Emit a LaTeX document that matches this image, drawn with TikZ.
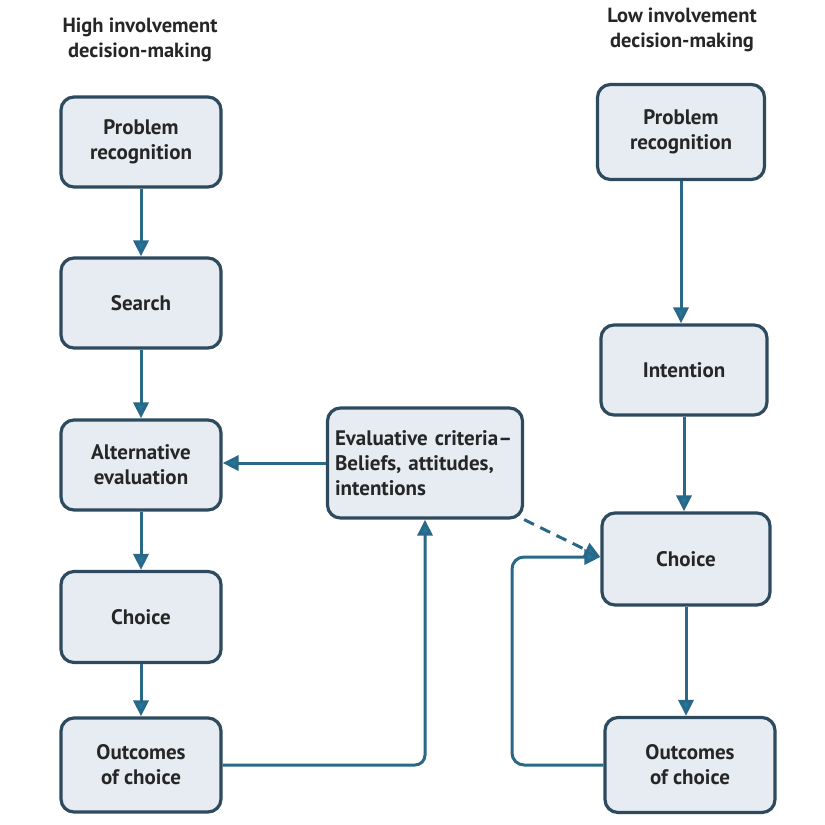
\documentclass[tikz,border=0pt]{standalone}
\usepackage{fontspec}
\setmainfont{PT Sans}
\usetikzlibrary{arrows.meta,calc}
\definecolor{boxline}{HTML}{2E4A5E}
\definecolor{boxfill}{HTML}{E6ECF2}
\definecolor{arrowc}{HTML}{2A6888}
\definecolor{tipc}{HTML}{1F78A2}
\tikzset{
  stage/.style={draw=boxline, fill=boxfill, line width=3.2pt, rounded corners=13pt,
    align=center, font=\bfseries\fontsize{21}{25}\selectfont, text=black!85, inner sep=0pt},
  ttl/.style={align=center, font=\bfseries\fontsize{20.5}{25}\selectfont, text=black!85},
  conn/.style={draw=arrowc, line width=3pt, -{Triangle[length=16pt,width=15pt,fill=tipc]}},
}
\begin{document}
\begin{tikzpicture}[x=1pt,y=-1pt]
\useasboundingbox (0,0) rectangle (825,825);
\fill[white] (0,0) rectangle (825,825);
% titles
\node[ttl] (hT) at (140,40) {High involvement\\decision-making};
\node[ttl] (lT) at (682,30) {Low involvement\\decision-making};
% high involvement column
\node[stage, minimum width=160pt, minimum height=90pt] (hPR) at (141,142) {Problem\\recognition};
\node[stage, minimum width=160pt, minimum height=90pt] (hS) at (141,303) {Search};
\node[stage, minimum width=160pt, minimum height=90pt] (hA) at (141,465) {Alternative\\evaluation};
\node[stage, minimum width=160pt, minimum height=91pt] (hC) at (141,617) {Choice};
\node[stage, minimum width=160pt, minimum height=94pt] (hO) at (141,765) {Outcomes\\of choice};
% low involvement column
\node[stage, minimum width=167pt, minimum height=95pt] (lPR) at (681,132) {Problem\\recognition};
\node[stage, minimum width=166pt, minimum height=90pt] (lI) at (684,370) {Intention};
\node[stage, minimum width=168pt, minimum height=92pt] (lC) at (686,559) {Choice};
\node[stage, minimum width=170pt, minimum height=95pt] (lO) at (690,765) {Outcomes\\of choice};
% evaluative criteria
\node[stage, minimum width=195pt, minimum height=110pt, text width=180pt, align=left] (ev) at (425,463)
  {Evaluative criteria–\\Beliefs, attitudes,\\intentions};
% connectors high
\draw[conn] (hPR.south) -- (hS.north);
\draw[conn] (hS.south) -- (hA.north);
\draw[conn] (hA.south) -- (hC.north);
\draw[conn] (hC.south) -- (hO.north);
\draw[conn] (ev.west) -- (hA.east |- ev.west);
\draw[conn, rounded corners=10pt] (hO.east) -| (ev.south);
% connectors low
\draw[conn] (lPR.south) -- (lPR.south |- lI.north);
\draw[conn] (lI.south) -- (lI.south |- lC.north);
\draw[conn] (lC.south) -- (lC.south |- lO.north);
\coordinate (tip) at ($(lC.west)+(0,-2)$);
\coordinate (loopx) at (512,0);
\draw[conn, dashed, dash pattern=on 11pt off 7pt] (ev.south east) -- (tip);
\draw[conn, rounded corners=12pt] (lO.west) -- (loopx |- lO.west) -- (loopx |- tip) -- (tip);
\end{tikzpicture}
\end{document}
